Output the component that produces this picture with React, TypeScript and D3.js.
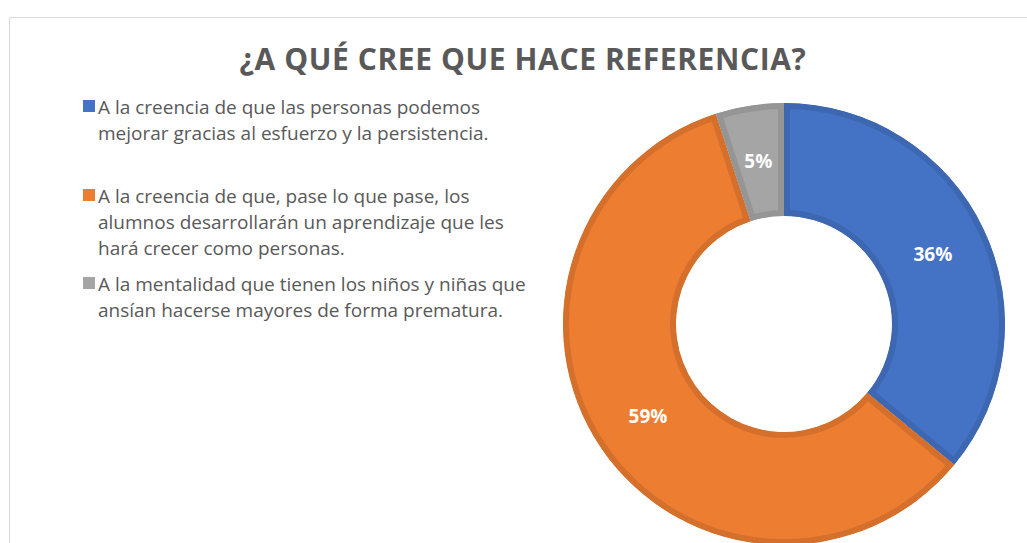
import React, { useRef, useEffect } from 'react';
import * as d3 from 'd3';

const categories = [
  ['A la creencia de que las personas podemos', 'mejorar gracias al esfuerzo y la persistencia.'],
  ['A la creencia de que, pase lo que pase, los', 'alumnos desarrollarán un aprendizaje que les', 'hará crecer como personas.'],
  ['A la mentalidad que tienen los niños y niñas que', 'ansían hacerse mayores de forma prematura.'],
];
const values = [36, 59, 5];
const colors = ['#4472c4', '#ed7d31', '#a5a5a5'];
const borderColors = ['#3d67b1', '#d5702c', '#959595'];
const legendTop = [107, 196, 284];

const App = () => {
  const svgRef = useRef<SVGSVGElement>(null);

  useEffect(() => {
    const w = 1027;
    const h = 543;
    const svg = d3.select(svgRef.current);
    svg.selectAll('*').remove();

    // chart frame
    svg.append('rect')
      .attr('x', 9.5).attr('y', 17.5)
      .attr('width', w + 20).attr('height', h)
      .attr('fill', '#fff').attr('stroke', '#d9d9d9');

    svg.append('text')
      .attr('x', 523).attr('y', 70)
      .attr('text-anchor', 'middle')
      .attr('font-family', 'Open Sans')
      .attr('font-weight', 700)
      .attr('font-size', 30)
      .attr('letter-spacing', 0.6)
      .attr('fill', '#595959')
      .text('¿A QUÉ CREE QUE HACE REFERENCIA?');

    // legend
    const lineH = 26;
    const legend = svg.append('g').attr('font-family', 'Open Sans').attr('font-size', 19).attr('fill', '#595959');
    categories.forEach((lines, i) => {
      legend.append('rect')
        .attr('x', 83).attr('y', legendTop[i] - 7)
        .attr('width', 12).attr('height', 12)
        .attr('fill', colors[i]);
      lines.forEach((ln, j) => {
        legend.append('text')
          .attr('x', 98).attr('y', legendTop[i] + j * lineH)
          .attr('dy', '0.35em')
          .text(ln);
      });
    });

    // donut
    const cx = 784;
    const cy = 324;
    const outer = 221;
    const inner = 108;
    const pie = d3.pie<number>().sort(null).value(d => d);
    const arcs = pie(values);
    const arc = d3.arc<d3.PieArcDatum<number>>().innerRadius(inner).outerRadius(outer);
    const g = svg.append('g').attr('transform', `translate(${cx},${cy})`);
    const defs = svg.append('defs');

    arcs.forEach((a, i) => {
      defs.append('clipPath').attr('id', `slice-${i}`)
        .append('path').attr('d', arc(a));
      g.append('path')
        .attr('d', arc(a))
        .attr('fill', colors[i])
        .attr('stroke', borderColors[i])
        .attr('stroke-width', 12)
        .attr('clip-path', `url(#slice-${i})`);
    });

    const labelArc = d3.arc<d3.PieArcDatum<number>>().innerRadius((inner + outer) / 2).outerRadius((inner + outer) / 2);
    g.selectAll('.lbl')
      .data(arcs)
      .join('text')
      .attr('transform', d => `translate(${labelArc.centroid(d)})`)
      .attr('text-anchor', 'middle')
      .attr('dy', '0.35em')
      .attr('font-family', 'Open Sans')
      .attr('font-weight', 700)
      .attr('font-size', 19)
      .attr('fill', '#fff')
      .text(d => `${d.data}%`);
  }, []);

  return (
    <svg ref={svgRef} width={1027} height={543}
      style={{ position: 'absolute', left: 0, top: 0, background: '#fff' }} />
  );
};

export default App;
